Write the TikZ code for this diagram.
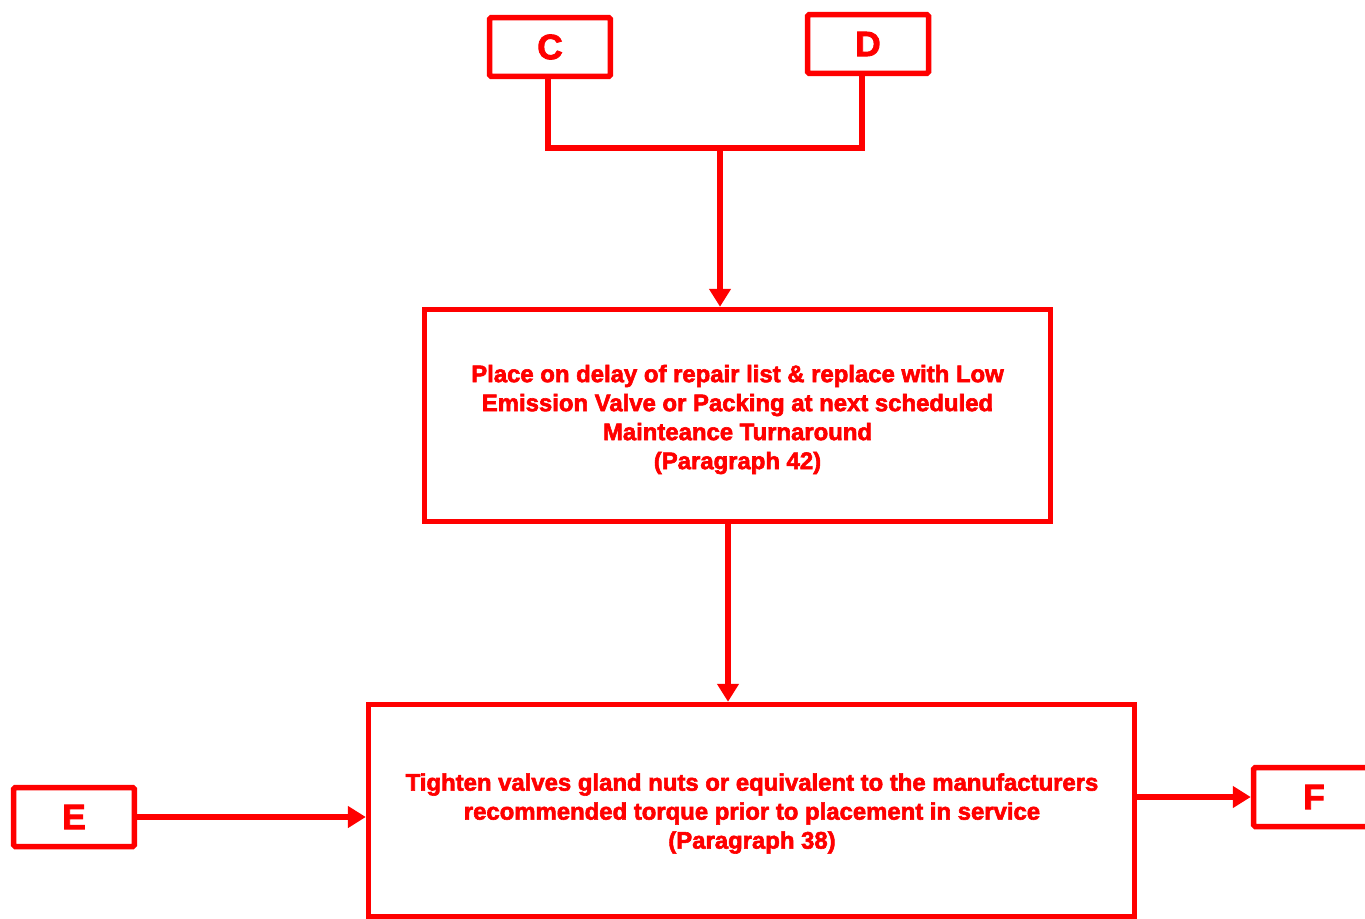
\documentclass[tikz,border=0pt]{standalone}
\usepackage{fontspec}
\setmainfont{Liberation Sans}[BoldFeatures={FakeBold=2.5}]
\usepackage{xcolor}
\usetikzlibrary{arrows.meta,calc,positioning}
\tikzset{%
	letterbox/.style = {draw=red, line width=0.11cm, rectangle, rounded corners=1pt, minimum width=2.42cm, minimum height=1.18cm, text=red, font=\fontsize{20}{24}\selectfont\bfseries},
	textbox/.style   = {draw=red, line width=0.11cm, rectangle, minimum width=12.52cm, minimum height=4.24cm, text=red, align=center, font=\fontsize{13.6}{16.5}\selectfont\bfseries},
	link/.style      = {draw=red, line width=0.11cm},
	arrow/.style     = {link, -{Triangle[length=0.36cm,width=0.42cm]}},
}
\begin{document}
\begin{tikzpicture}[x=0.02cm,y=-0.02cm]
		\useasboundingbox (0,0) rectangle (1365,919);
		\node[letterbox] (C) at (550,47) {C};
		\node[letterbox] (D) at (868,44) {D};
		\node[textbox] (delay) at (737.5,415.5) {};
		\node[text=red, align=center, font=\fontsize{13.6}{16.5}\selectfont\bfseries] (delaytext) at (737.5,419.5) {Place on delay of repair list \& replace with Low\\Emission Valve or Packing at next scheduled\\Mainteance Turnaround\\(Paragraph 42)};
		\node[textbox, minimum width=15.32cm] (tighten) at (751.5,810.5) {};
		\node[text=red, align=center, font=\fontsize{13.6}{16.5}\selectfont\bfseries] (tightentext) at (752,813.5) {Tighten valves gland nuts or equivalent to the manufacturers\\recommended torque prior to placement in service\\(Paragraph 38)};
		\node[letterbox] (E) at (74,817) {E};
		\node[letterbox] (F) at (1314,797) {F};
		\coordinate (join) at (720,148);
		\draw[link] ([xshift=-0.04cm]C.south) |- (join) -| ([xshift=-0.12cm]D.south);
		\draw[arrow] (join) -- (join |- delay.north);
		\draw[arrow] ([xshift=-0.19cm]delay.south) -- ([xshift=-0.19cm]delay.south |- tighten.north);
		\draw[arrow] (E.east) -- (E.east -| tighten.west);
		\draw[arrow] (tighten.east |- F.west) -- (F.west);
\end{tikzpicture}
\end{document}
